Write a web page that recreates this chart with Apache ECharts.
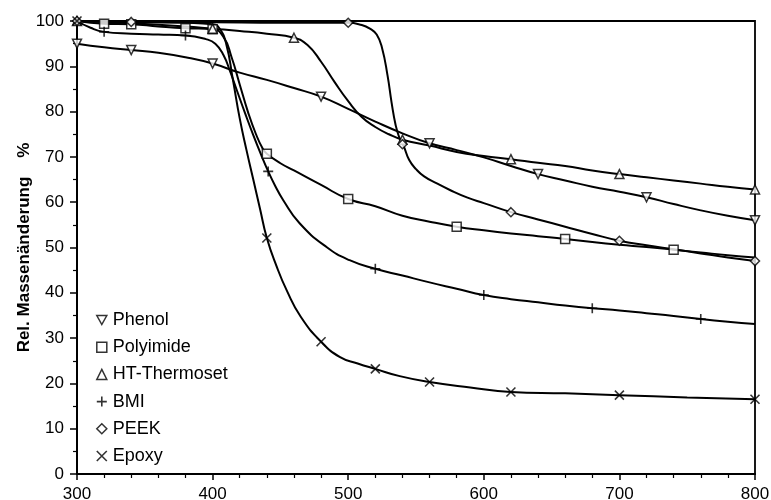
<!DOCTYPE html>
<html>
<head>
<meta charset="utf-8">
<script src="https://cdn.jsdelivr.net/npm/echarts@6/dist/echarts.min.js"></script>
<style>
html, body { margin: 0; padding: 0; background: #fff; }
#el { width: 771px; height: 500px; }
</style>
</head>
<body>
<div id="el"></div>
<script>
// achsen
const xTicks = [300, 400, 500, 600, 700, 800];
const yTicks = [0, 10, 20, 30, 40, 50, 60, 70, 80, 90, 100];

// Kurven [Temperatur, Masse %] und Punkte mit Symbol
const phenolCurve = [[300,95],[320,94.2],[340,93.6],[360,93],[380,92],[400,90.6],[420,88.6],[440,87],[460,85.2],[480,83.3],[500,80.6],[520,77.8],[540,75.2],[560,73],[580,71.5],[600,69.9],[620,68],[640,66.2],[660,64.8],[680,63.4],[700,62.3],[720,61.1],[740,59.6],[760,58.2],[780,57],[800,56]];
const phenolMarks = [[300,95],[340,93.6],[400,90.6],[480,83.3],[560,73],[640,66.2],[720,61.1],[800,56]];

const polyCurve = [[300,100],[320,99.4],[340,99.3],[360,98.8],[380,98.4],[400,98.2],[408,96.5],[414,92],[420,86],[426,80],[432,75],[437,71.8],[440,70.7],[450,68.6],[460,67],[480,63.8],[500,60.7],[520,59.1],[540,57],[560,55.7],[580,54.6],[600,53.8],[620,53.1],[640,52.5],[660,51.9],[680,51.2],[700,50.6],[720,50.1],[740,49.5],[760,48.9],[780,48.3],[800,47.8]];
const polyMarks = [[320,99.4],[340,99.3],[380,98.4],[400,98.2],[440,70.7],[500,60.7],[580,54.6],[660,51.9],[740,49.5]];

const htCurve = [[300,100],[340,99.5],[380,98.8],[400,98.3],[420,97.8],[440,97.2],[460,96.3],[470,94.7],[480,91],[490,86.5],[500,82.3],[510,78.8],[520,76.6],[530,75],[540,73.8],[560,72.5],[580,71.1],[600,70.2],[620,69.5],[640,68.7],[660,68],[680,67],[700,66.2],[720,65.5],[740,64.8],[760,64.1],[780,63.4],[800,62.8]];
const htMarks = [[300,100],[400,98.3],[460,96.3],[540,73.8],[620,69.5],[700,66.2],[800,62.8]];

const bmiCurve = [[300,100],[310,98.5],[320,97.6],[340,97.2],[360,97],[380,96.8],[395,96],[402,95],[408,92.5],[413,88.8],[418,84.6],[424,79.6],[430,74.8],[436,70.3],[441,66.8],[446,63.7],[452,60.5],[464,55.4],[484,50.1],[501,47.2],[520,45.3],[540,43.8],[560,42.3],[580,40.9],[600,39.5],[620,38.6],[640,37.9],[660,37.2],[680,36.6],[700,36.1],[720,35.5],[740,34.9],[760,34.2],[780,33.6],[800,33.1]];
const bmiMarks = [[300,100],[320,97.6],[380,96.8],[441,66.8],[520,45.3],[600,39.5],[680,36.6],[760,34.2]];

const peekCurve = [[300,100],[340,99.8],[400,99.7],[450,99.6],[500,99.6],[510,99.1],[516,98.3],[521,97],[525,94],[529,88],[532,82],[535,77],[538,74],[541,72.3],[545,69.3],[550,67.3],[556,65.7],[565,64.2],[575,62.7],[588,61],[600,59.8],[620,57.8],[640,56.2],[660,54.6],[680,53],[700,51.5],[720,50.5],[740,49.6],[760,48.7],[780,47.8],[800,47]];
const peekMarks = [[300,100],[340,99.8],[500,99.6],[540,72.8],[620,57.8],[700,51.5],[800,47]];

const epoxyCurve = [[300,100],[340,99.8],[380,99.6],[400,99.3],[405,98.4],[410,95],[415,87],[420,78.5],[425,71.5],[430,65],[435,58.5],[440,52.1],[447,46],[455,40.3],[465,34.7],[480,29.2],[494,25.8],[507,24.4],[520,23.2],[538,21.6],[560,20.3],[590,19.1],[620,18.1],[660,17.8],[700,17.4],[750,16.9],[800,16.5]];
const epoxyMarks = [[300,100],[440,52.1],[480,29.2],[520,23.2],[560,20.3],[620,18.1],[700,17.4],[800,16.5]];

const names = ['Phenol', 'Polyimide', 'HT-Thermoset', 'BMI', 'PEEK', 'Epoxy'];

// symbole
const symTriDown = 'path://M0,0L10,0L5,9Z';
const symPlus = 'path://M5,0L5,10M0,5L10,5';
const symCross = 'path://M0,0L10,10M10,0L0,10';

const hollow = { color: '#fff', borderColor: '#000', borderWidth: 1.5 };
const strokeOnly = { color: 'transparent', borderColor: '#000', borderWidth: 1.6 };

const defs = [
    { name: names[0], curve: phenolCurve, marks: phenolMarks, symbol: symTriDown, size: 9, style: hollow },
    { name: names[1], curve: polyCurve, marks: polyMarks, symbol: 'rect', size: 9, style: hollow },
    { name: names[2], curve: htCurve, marks: htMarks, symbol: 'triangle', size: 9, style: hollow },
    { name: names[3], curve: bmiCurve, marks: bmiMarks, symbol: symPlus, size: 10, style: strokeOnly },
    { name: names[4], curve: peekCurve, marks: peekMarks, symbol: 'diamond', size: 9, style: hollow },
    { name: names[5], curve: epoxyCurve, marks: epoxyMarks, symbol: symCross, size: 9, style: strokeOnly }
];

let series = [];
defs.forEach(d => {
    series.push({
        name: d.name,
        type: 'scatter',
        data: d.marks,
        symbol: d.symbol,
        symbolSize: d.size,
        itemStyle: d.style,
        z: 5
    });
    series.push({
        name: d.name,
        type: 'line',
        data: d.curve,
        showSymbol: false,
        smooth: 0.5,
        lineStyle: { color: '#000', width: 2 },
        z: 3
    });
});

const fontFam = 'Liberation Sans, Arial, sans-serif';

let mychart = echarts.init(document.getElementById('el'));
let option = {
    animation: false,
    backgroundColor: '#fff',
    grid: {
        left: 77, right: 16, top: 21, bottom: 26,
        show: true,
        borderColor: '#000',
        borderWidth: 1.8,
        containLabel: false,
        outerBoundsMode: 'none'
    },
    legend: {
        orient: 'vertical',
        left: 91,
        top: 306,
        itemWidth: 10,
        itemHeight: 10,
        itemGap: 9.2,
        selectedMode: false,
        textStyle: { fontFamily: fontFam, fontSize: 18, color: '#000', lineHeight: 18, padding: [0, 0, 0, 1] },
        data: defs.map(d => ({ name: d.name, icon: d.symbol, itemStyle: d.style }))
    },
    xAxis: {
        type: 'value',
        min: xTicks[0],
        max: xTicks[xTicks.length - 1],
        interval: 100,
        axisLine: { lineStyle: { color: '#000', width: 2 } },
        axisTick: { show: true, length: 6, lineStyle: { color: '#000', width: 1.5 } },
        minorTick: { show: true, splitNumber: 5, length: 4, lineStyle: { color: '#000', width: 1.2 } },
        splitLine: { show: false },
        axisLabel: { fontFamily: fontFam, fontSize: 17, color: '#000', margin: 12 }
    },
    yAxis: {
        type: 'value',
        min: yTicks[0],
        max: yTicks[yTicks.length - 1],
        interval: 10,
        name: 'Rel. Massenänderung    %',
        nameLocation: 'middle',
        nameGap: 44,
        nameMoveOverlap: false,
        nameTextStyle: { fontFamily: fontFam, fontSize: 17, fontWeight: 'bold', color: '#000' },
        axisLine: { show: true, lineStyle: { color: '#000', width: 2 } },
        axisTick: { show: true, length: 7, lineStyle: { color: '#000', width: 1.5 } },
        minorTick: { show: true, splitNumber: 2, length: 4, lineStyle: { color: '#000', width: 1.2 } },
        splitLine: { show: false },
        axisLabel: { fontFamily: fontFam, fontSize: 17, color: '#000', margin: 13 }
    },
    series: series
};
option && mychart.setOption(option);
</script>
</body>
</html>
